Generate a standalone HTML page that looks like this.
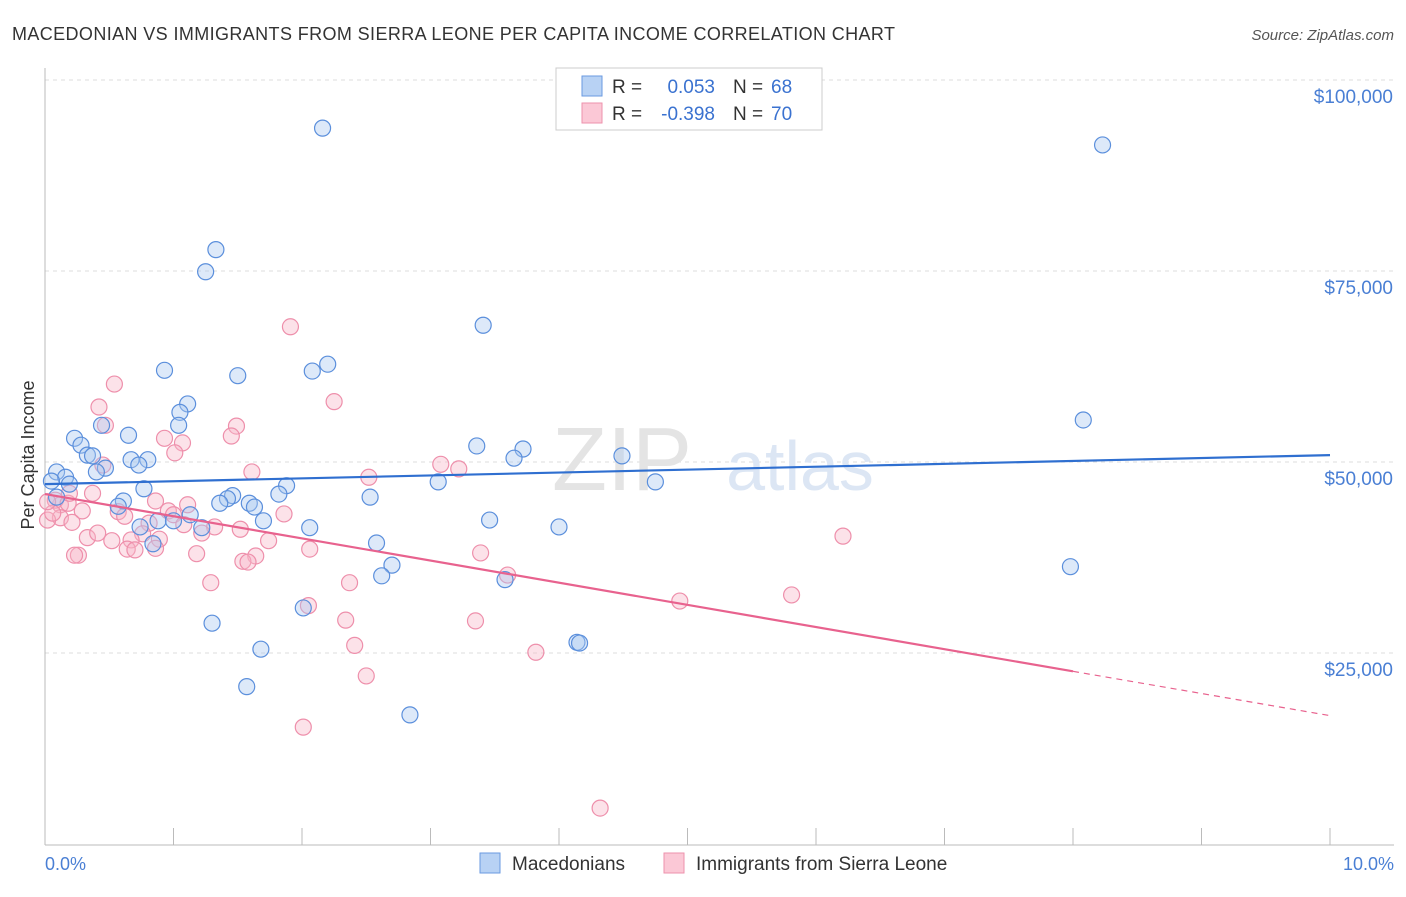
<!DOCTYPE html>
<html><head><meta charset="utf-8">
<style>
body{margin:0;background:#fff;font-family:"Liberation Sans",sans-serif;}
svg text{font-family:"Liberation Sans",sans-serif;}
</style></head>
<body>
<svg id="chart" width="1406" height="892" viewBox="0 0 1406 892">
<text x="12" y="40" font-size="18" fill="#333" textLength="883">MACEDONIAN VS IMMIGRANTS FROM SIERRA LEONE PER CAPITA INCOME CORRELATION CHART</text>
<text x="1394" y="40" font-size="15" fill="#555" font-style="italic" text-anchor="end">Source: ZipAtlas.com</text>
<g id="grid"></g>
<text x="622" y="490" font-size="90" fill="#e4e4e4" font-family="Liberation Serif" text-anchor="middle">ZIP</text>
<text x="800" y="490" font-size="70" fill="#dce6f4" text-anchor="middle">atlas</text>
<g id="points"></g>
<g id="lines"></g>
<text transform="translate(34,455) rotate(-90)" font-size="18" fill="#333" text-anchor="middle">Per Capita Income</text>
<text x="45" y="870" font-size="18" fill="#4a7fd4">0.0%</text>
<text x="1394" y="870" font-size="18" fill="#4a7fd4" text-anchor="end">10.0%</text>
<g>
<rect x="556" y="68" width="266" height="62" fill="#fff" stroke="#ccc"/>
<rect x="582" y="76" width="20" height="20" fill="#b8d2f4" stroke="#6a9ae0"/>
<text x="612" y="93" font-size="19" fill="#333">R =</text>
<text x="715" y="93" font-size="19" fill="#3a72d0" text-anchor="end">0.053</text>
<text x="733" y="93" font-size="19" fill="#333">N =</text>
<text x="771" y="93" font-size="19" fill="#3a72d0">68</text>
<rect x="582" y="103" width="20" height="20" fill="#fbc8d6" stroke="#ee92ac"/>
<text x="612" y="120" font-size="19" fill="#333">R =</text>
<text x="715" y="120" font-size="19" fill="#3a72d0" text-anchor="end">-0.398</text>
<text x="733" y="120" font-size="19" fill="#333">N =</text>
<text x="771" y="120" font-size="19" fill="#3a72d0">70</text>
</g>
<g>
<rect x="480" y="853" width="20" height="20" fill="#b8d2f4" stroke="#6a9ae0"/>
<text x="512" y="870" font-size="19" fill="#333">Macedonians</text>
<rect x="664" y="853" width="20" height="20" fill="#fbc8d6" stroke="#ee92ac"/>
<text x="696" y="870" font-size="19" fill="#333">Immigrants from Sierra Leone</text>
</g>
</svg>
<script>
const yTicks=[25000,50000,75000,100000];
const yTickLabels=["$25,000","$50,000","$75,000","$100,000"];
const xTicks=[0,1,2,3,4,5,6,7,8,9,10];
const blueX=[2.16,8.23,1.33,1.25,3.41,0.93,1.50,2.20,2.08,1.11,1.05,1.04,8.08,0.23,0.65,0.44,0.28,0.33,0.37,0.67,0.80,0.73,0.47,0.40,0.09,0.16,0.19,0.05,0.09,3.36,3.72,3.65,4.49,4.75,3.06,1.88,1.82,0.77,1.46,1.42,1.36,1.59,1.63,0.61,0.57,2.53,3.46,4.00,1.70,0.88,1.00,1.13,0.74,2.06,1.22,2.58,0.84,7.98,2.70,2.62,3.58,4.14,4.16,2.01,1.30,1.68,1.57,2.84];
const blueY=[93.7,91.5,77.8,74.9,67.9,62.0,61.3,62.8,61.9,57.6,56.5,54.8,55.5,53.1,53.5,54.8,52.2,50.9,50.8,50.3,50.3,49.6,49.2,48.7,48.7,48.0,47.1,47.5,45.4,52.1,51.7,50.5,50.8,47.4,47.4,46.9,45.8,46.5,45.6,45.2,44.6,44.6,44.1,44.9,44.2,45.4,42.4,41.5,42.3,42.3,42.3,43.1,41.5,41.4,41.4,39.4,39.3,36.3,36.5,35.1,34.6,26.4,26.3,30.9,28.9,25.5,20.6,16.9];
const pinkX=[1.91,0.54,2.25,0.42,0.47,1.49,1.45,0.93,1.07,1.01,0.45,1.61,3.08,3.22,2.52,0.37,0.12,0.08,0.18,0.29,0.57,0.62,0.86,1.11,0.96,1.00,0.81,0.12,0.21,0.02,0.06,1.32,1.52,1.08,1.22,1.86,0.76,0.52,0.67,0.89,0.86,0.33,0.26,0.23,0.64,0.70,0.41,1.74,6.21,2.06,1.18,1.64,1.54,1.58,3.39,3.60,1.29,2.37,5.81,4.94,2.05,2.34,3.35,2.41,3.82,2.50,2.01,4.32,0.19,0.02];
const pinkY=[67.7,60.2,57.9,57.2,54.8,54.7,53.4,53.1,52.5,51.2,49.6,48.7,49.7,49.1,48.0,45.9,44.4,45.0,44.6,43.6,43.5,42.9,44.9,44.4,43.6,43.1,42.0,42.7,42.1,42.4,43.3,41.5,41.2,41.8,40.7,43.2,40.6,39.7,39.8,39.9,38.7,40.1,37.8,37.8,38.6,38.5,40.7,39.7,40.3,38.6,38.0,37.7,37.0,36.9,38.1,35.2,34.2,34.2,32.6,31.8,31.2,29.3,29.2,26.0,25.1,22.0,15.3,4.7,45.9,44.8];
const blueTrend=[47.1,50.9];
const pinkTrend=[45.8,16.8];
const pinkSolidEnd=8.0;

const NS="http://www.w3.org/2000/svg";
const X=v=>45+v*128.5;
const Y=v=>844-v*191/25;
function mk(tag,attrs,parent){const e=document.createElementNS(NS,tag);for(const k in attrs)e.setAttribute(k,attrs[k]);parent.appendChild(e);return e;}
const grid=document.getElementById('grid');
yTicks.forEach((t,i)=>{
  const y=Y(t/1000);
  const l=mk('line',{x1:45,x2:1394,y1:y,y2:y,stroke:'#ddd','stroke-dasharray':'4,4'},grid);
  
  
  const tx=mk('text',{x:1393,y:y+23,'font-size':19,fill:'#4a7fd4','text-anchor':'end'},grid);
  tx.textContent=yTickLabels[i];
  
  
});
const ax=mk('line',{x1:45,x2:45,y1:68,y2:845,stroke:'#bbb'},grid);


const bx=mk('line',{x1:45,x2:1394,y1:845,y2:845,stroke:'#bbb'},grid);


xTicks.forEach(t=>{
  const tk=mk('line',{x1:X(t),x2:X(t),y1:828,y2:845,stroke:'#bbb'},grid);
  
  
});
const pts=document.getElementById('points');
function drawPts(xs,ys,fill,stroke,name){
  xs.forEach((x,i)=>{
    const c=mk('circle',{cx:X(x),cy:Y(ys[i]),r:8,fill:fill,'fill-opacity':0.4,stroke:stroke,'stroke-width':1.2},pts);
    
    
  });
}
drawPts(pinkX,pinkY,'#f7b6c9','#ee8fab','point-sierra-leone');
drawPts(blueX,blueY,'#a9c8f0','#5b8fdc','point-macedonian');
const lines=document.getElementById('lines');
const bl=mk('line',{x1:X(0),y1:Y(blueTrend[0]),x2:X(10),y2:Y(blueTrend[1]),stroke:'#2f6fd0','stroke-width':2.2},lines);


const pAt=x=>pinkTrend[0]+(pinkTrend[1]-pinkTrend[0])*x/10;
const pl=mk('line',{x1:X(0),y1:Y(pAt(0)),x2:X(pinkSolidEnd),y2:Y(pAt(pinkSolidEnd)),stroke:'#e8628e','stroke-width':2.2},lines);


const pd=mk('line',{x1:X(pinkSolidEnd),y1:Y(pAt(pinkSolidEnd)),x2:X(10),y2:Y(pAt(10)),stroke:'#e8628e','stroke-width':1.2,'stroke-dasharray':'6,5'},lines);


</script>
</body></html>
